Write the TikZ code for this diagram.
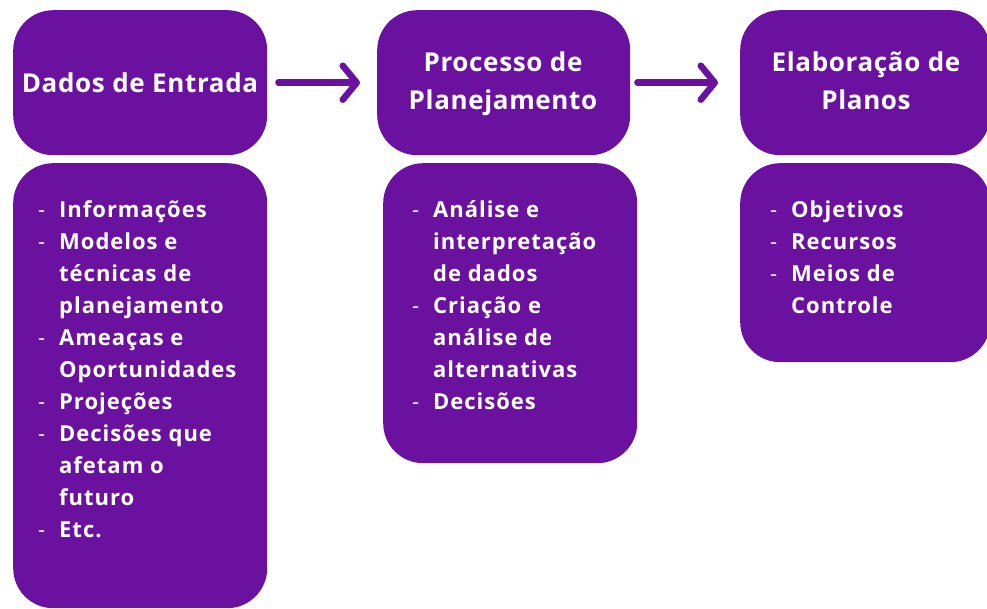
\documentclass[tikz,border=0pt]{standalone}
\usepackage{fontspec}
\setmainfont{Open Sans}
\usetikzlibrary{arrows.meta}
\definecolor{purp}{RGB}{107,17,160}
\tikzset{
  box/.style={fill=purp, draw=none, rounded corners=40pt, inner sep=0pt, anchor=north west},
  ttl/.style={text=white, font=\fontsize{26}{30}\selectfont\bfseries\addfontfeatures{LetterSpace=2.5}, inner sep=0pt, anchor=base},
  lst/.style={text=white, font=\fontsize{22}{32}\selectfont\bfseries\addfontfeatures{LetterSpace=4.5}, inner sep=0pt, anchor=base west},
  arr/.style={draw=purp, line width=6.5pt, line cap=round, -{Straight Barb[length=14pt, width=34pt, round]}}
}
\newcommand{\dsh}{\makebox[21pt][l]{\mdseries -}}
\newcommand{\ind}{\hspace*{21pt}}
\newcommand{\ctr}[1]{\vtop{\baselineskip=38pt\halign{\hfil##\hfil\cr#1\crcr}}}
\newcommand{\lft}[1]{\vtop{\baselineskip=32pt\halign{##\hfil\cr#1\crcr}}}
\begin{document}
\begin{tikzpicture}[x=1pt,y=-1pt]
\useasboundingbox (0,0) rectangle (987,609);
\clip (0,0) rectangle (987,609);
% top boxes
\node[box, minimum width=254pt, minimum height=145pt] (b1) at (13,10) {};
\node[box, minimum width=253pt, minimum height=145pt] (b2) at (377,10) {};
\node[box, minimum width=250pt, minimum height=145pt] (b3) at (740,10) {};
% bottom boxes
\node[box, minimum width=254pt, minimum height=445pt] (c1) at (13,163) {};
\node[box, minimum width=254pt, minimum height=300pt] (c2) at (383,163) {};
\node[box, minimum width=250pt, minimum height=199pt] (c3) at (740,163) {};
% titles
\node[ttl] (t1) at (140,93) {Dados de Entrada};
\node[ttl] (t2) at (503,72) {\ctr{Processo de\cr Planejamento}};
\node[ttl] (t3) at (866,72) {\ctr{Elaboração de\cr Planos}};
% lists
\node[lst] (l1) at (38,218) {\lft{\dsh Informações\cr
\dsh Modelos e\cr
\ind técnicas de\cr
\ind planejamento\cr
\dsh Ameaças e\cr
\ind Oportunidades\cr
\dsh Projeções\cr
\dsh Decisões que\cr
\ind afetam o\cr
\ind futuro\cr
\dsh Etc.}};
\node[lst] (l2) at (412,218) {\lft{\dsh Análise e\cr
\ind interpretação\cr
\ind de dados\cr
\dsh Criação e\cr
\ind análise de\cr
\ind alternativas\cr
\dsh Decisões}};
\node[lst] (l3) at (770,218) {\lft{\dsh Objetivos\cr
\dsh Recursos\cr
\dsh Meios de\cr
\ind Controle}};
% arrows
\draw[arr, shorten <=11pt, shorten >=17pt] (b1.east) -- (b2.west);
\draw[arr, shorten <=7pt, shorten >=22pt] (b2.east) -- (b3.west);
\end{tikzpicture}
\end{document}
